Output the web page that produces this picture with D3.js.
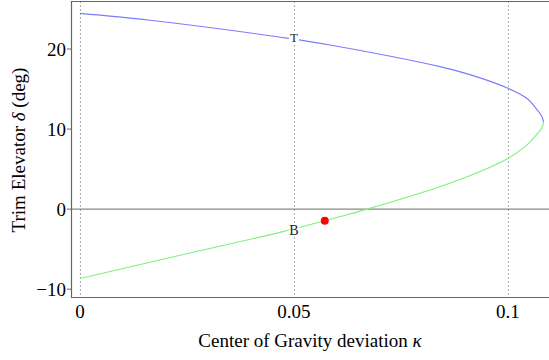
<!DOCTYPE html>
<meta charset="utf-8">
<title>Trim Elevator vs Center of Gravity deviation</title>
<style>
body { margin: 0; background: #fff; }
text { font-family: "Liberation Serif", "Times New Roman", serif; fill: #000; }
.grid line { stroke: #aaa; stroke-dasharray: 2,2; }
</style>
<svg width="549" height="360"></svg>
<script src="https://d3js.org/d3.v7.min.js"></script>
<script>
// upper branch (T), kappa increasing
var upperKappa = [0, 0.0164, 0.0491, 0.0584, 0.0841, 0.0911, 0.1, 0.1044, 0.1067, 0.1079];
var upperDelta = [24.46, 23.6, 21.3, 20.5, 17.8, 16.8, 15.1, 13.85, 12.5, 11.6];
// tip where the two branches meet
var tipKappa = 0.1083, tipDelta = 10.9;
// lower branch (B), kappa decreasing from the tip
var lowerKappa = [0.1079, 0.1067, 0.104, 0.1, 0.0935, 0.0841, 0.0671, 0.0607, 0.0467, 0.0234, 0];
var lowerDelta = [10.15, 9.3, 7.8, 6.33, 4.7, 2.8, 0, -0.96, -2.9, -5.75, -8.67];

var xTicks = [0, 0.05, 0.1];
var yTicks = [-10, 0, 10, 20];
var point = {kappa: 0.0572, delta: -1.46};
var labels = [{t: "T", kappa: 0.05, delta: 21.4, size: 13}, {t: "B", kappa: 0.05, delta: -2.6, size: 14}];

var svg = d3.select("svg");

var x = d3.scaleLinear().domain([-0.0021, 0.1096]).range([71, 549]);
var y = d3.scaleLinear().domain([-11.1, 26]).range([298, 1]);

var pts = upperKappa.map(function(k, i) { return [k, upperDelta[i]]; })
  .concat([[tipKappa, tipDelta]])
  .concat(lowerKappa.map(function(k, i) { return [k, lowerDelta[i]]; }));

// dashed verticals
svg.append("g").attr("class", "grid")
  .selectAll("line").data(xTicks).enter().append("line")
    .attr("x1", function(d) { return x(d) + 0.5; })
    .attr("x2", function(d) { return x(d) + 0.5; })
    .attr("y1", y.range()[1]).attr("y2", y.range()[0]);

// zero line
svg.append("line")
  .attr("x1", 71).attr("x2", 549)
  .attr("y1", y(0)).attr("y2", y(0))
  .attr("stroke", "#888").attr("stroke-width", 1.3);

var line = d3.line()
  .x(function(d) { return x(d[0]); })
  .y(function(d) { return y(d[1]); })
  .curve(d3.curveCatmullRom.alpha(0.5));

var defs = svg.append("defs");
defs.append("clipPath").attr("id", "top")
  .append("rect").attr("x", 0).attr("y", 0).attr("width", 549).attr("height", y(tipDelta));
defs.append("clipPath").attr("id", "bot")
  .append("rect").attr("x", 0).attr("y", y(tipDelta)).attr("width", 549).attr("height", 360);

svg.append("path").datum(pts)
  .attr("d", line).attr("fill", "none")
  .attr("stroke", "#7b7bff").attr("stroke-width", 1.1)
  .attr("clip-path", "url(#top)");
svg.append("path").datum(pts)
  .attr("d", line).attr("fill", "none")
  .attr("stroke", "#7ef07e").attr("stroke-width", 1.1)
  .attr("clip-path", "url(#bot)");

// branch labels
labels.forEach(function(l) {
  var g = svg.append("g").attr("transform", "translate(" + x(l.kappa) + "," + y(l.delta) + ")");
  g.append("rect").attr("x", -5).attr("y", -6).attr("width", 10).attr("height", 12).attr("fill", "#fff");
  g.append("text").attr("text-anchor", "middle").attr("dy", "0.35em")
    .style("font-size", l.size + "px").style("fill", "#222").text(l.t);
});

svg.append("circle")
  .attr("cx", x(point.kappa)).attr("cy", y(point.delta))
  .attr("r", 4).attr("fill", "#f00");

// frame
svg.append("path")
  .attr("d", "M552,1.5H71.5V297.5H552")
  .attr("fill", "none").attr("stroke", "#666").attr("stroke-width", 1.2);

svg.append("g").selectAll("line").data(yTicks).enter().append("line")
  .attr("x1", 67).attr("x2", 71)
  .attr("y1", function(d) { return y(d); }).attr("y2", function(d) { return y(d); })
  .attr("stroke", "#666");

svg.append("g").selectAll("text").data(yTicks).enter().append("text")
  .attr("x", 66).attr("y", function(d) { return y(d) + 7; })
  .attr("text-anchor", "end").style("font-size", "19px")
  .text(function(d) { return d < 0 ? "\u2212" + Math.abs(d) : d; });

svg.append("g").selectAll("text").data(xTicks).enter().append("text")
  .attr("x", function(d) { return x(d); }).attr("y", 318)
  .attr("text-anchor", "middle").style("font-size", "19px")
  .text(function(d) { return d; });

var xt = svg.append("text")
  .attr("x", 310).attr("y", 347)
  .attr("text-anchor", "middle").style("font-size", "19px");
xt.append("tspan").text("Center of Gravity deviation ");
xt.append("tspan").style("font-style", "italic").text("\u03ba");

var yt = svg.append("text")
  .attr("transform", "translate(25,150) rotate(-90)")
  .attr("text-anchor", "middle").style("font-size", "19px");
yt.append("tspan").text("Trim Elevator ");
yt.append("tspan").style("font-style", "italic").text("\u03b4");
yt.append("tspan").text(" (deg)");
</script>
